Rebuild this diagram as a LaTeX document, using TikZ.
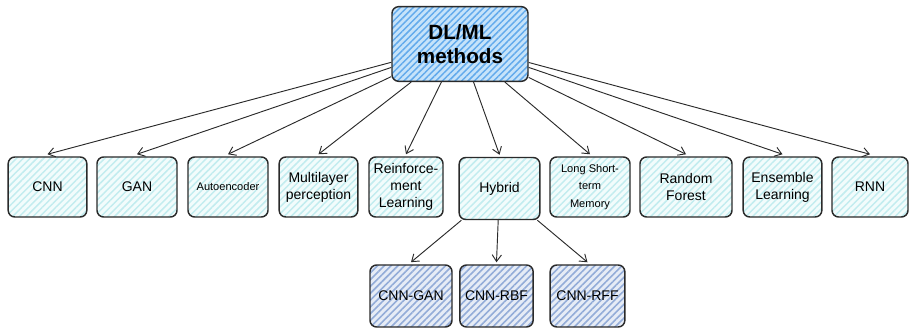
\documentclass[tikz,border=0pt]{standalone}
\usepackage{fontspec}
\setmainfont{Liberation Sans}
\usetikzlibrary{patterns.meta,arrows.meta}
\definecolor{phuongphap}{HTML}{62AAEC}
\definecolor{phuongphapnen}{HTML}{C6E3FA}
\definecolor{nhanhsoc}{HTML}{C2ECEF}
\definecolor{nhanhnen}{HTML}{F2FCFC}
\definecolor{laighep}{HTML}{93ACD8}
\definecolor{laighepnen}{HTML}{E6ECF6}
\definecolor{vienhop}{HTML}{2A2A2A}
\begin{document}
\begin{tikzpicture}[x=0.75pt,y=-0.75pt,
	hop/.style={draw=vienhop,line width=1.1pt,rounded corners=5pt,align=center,inner sep=1pt,minimum height=45pt,font=\fontsize{10.5}{12.8}\selectfont},
	goc/.style={hop,preaction={fill=phuongphapnen},pattern={Lines[angle=45,distance=3.4pt,line width=1.1pt]},pattern color=phuongphap,minimum width=102pt,minimum height=56pt,font=\bfseries\fontsize{15.5}{17.5}\selectfont},
	nhanh/.style={hop,preaction={fill=nhanhnen},pattern={Lines[angle=45,distance=3.6pt,line width=1.1pt]},pattern color=nhanhsoc},
	lai/.style={hop,preaction={fill=laighepnen},pattern={Lines[angle=45,distance=3.6pt,line width=1.2pt]},pattern color=laighep,minimum height=46.5pt},
	muiten/.style={draw=vienhop,line width=0.7pt,-{Straight Barb[length=5pt,width=7pt]}}]
	\useasboundingbox (0,0) rectangle (910,331);
	%\draw (0,0) grid[step=50] (910,331);
	\node[goc] (dlml) at (460,44) {DL/ML\\methods};
	% hang giua
	\node[nhanh,minimum width=59pt] (cnn) at (47.5,187) {CNN};
	\node[nhanh,minimum width=60pt] (gan) at (137,187) {GAN};
	\node[nhanh,minimum width=60pt,font=\fontsize{8.3}{10}\selectfont] (auto) at (228,187) {Autoencoder};
	\node[nhanh,minimum width=59pt] (mlp) at (318.5,187) {Multilayer\\perception};
	\node[nhanh,minimum width=55.5pt] (rl) at (406,187) {Reinforce-\\ment\\Learning};
	\node[nhanh,minimum width=60.5pt,minimum height=46.5pt] (hybrid) at (499.5,188.5) {Hybrid};
	\node[nhanh,minimum width=60pt,font=\fontsize{8.3}{13}\selectfont] (lstm) at (590,187) {Long Short-\\term\\Memory};
	\node[nhanh,minimum width=69pt] (rf) at (686,187) {Random\\Forest};
	\node[nhanh,minimum width=59pt] (ens) at (782.5,187) {Ensemble\\Learning};
	\node[nhanh,minimum width=57pt] (rnn) at (870,187) {RNN};
	% hang duoi
	\node[lai,minimum width=61.5pt] (cnngan) at (411,296) {CNN-GAN};
	\node[lai,minimum width=55pt] (cnnrbf) at (496.5,296) {CNN-RBF};
	\node[lai,minimum width=56pt] (cnnrff) at (587.5,296) {CNN-RFF};
	% mui ten
	\foreach \dich in {cnn,gan,auto,mlp,rl,hybrid,lstm,rf,ens,rnn}
		\draw[muiten] (dlml) -- ([yshift=1.5pt]\dich.north);
	\foreach \dich in {cnngan,cnnrbf,cnnrff}
		\draw[muiten] (hybrid) -- ([yshift=1.5pt]\dich.north);
\end{tikzpicture}
\end{document}
